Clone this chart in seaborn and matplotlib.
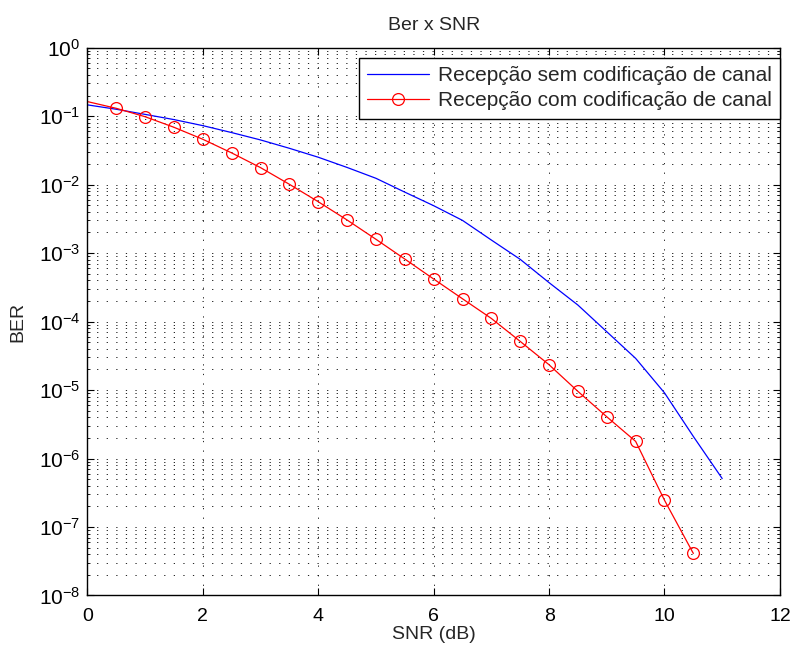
import numpy as np
import pandas as pd
import matplotlib
matplotlib.use("Agg")
import matplotlib.pyplot as plt
import seaborn as sns

# BER sem codificacao (curva azul), passo de 0.5 dB
snr_sem = [0, 0.5, 1, 1.5, 2, 2.5, 3, 3.5, 4, 4.5, 5, 5.5,
           6, 6.5, 7, 7.5, 8, 8.5, 9, 9.5, 10, 10.5, 11]
ber_sem = [0.146, 0.126, 0.106, 0.089, 0.0726, 0.0575, 0.0449, 0.0339,
           0.0251, 0.0178, 0.01236, 0.00776, 0.00492, 0.0030, 0.00155,
           0.00081, 0.00037, 0.000174, 7.1e-5, 2.9e-5, 9.1e-6,
           2.1e-6, 5.1e-7]

# BER com codificacao (curva vermelha com circulos)
snr_com = [0, 0.5, 1, 1.5, 2, 2.5, 3, 3.5, 4, 4.5, 5, 5.5,
           6, 6.5, 7, 7.5, 8, 8.5, 9, 9.5, 10, 10.5]
ber_com = [0.163, 0.130, 0.098, 0.0687, 0.0459, 0.029, 0.0177, 0.0101,
           0.00562, 0.00304, 0.00159, 0.000818, 0.000418, 0.000215,
           0.000111, 5.13e-5, 2.34e-5, 9.55e-6, 4.07e-6, 1.78e-6,
           2.46e-7, 4.11e-8]

sns.set_style("ticks")
plt.rcParams['font.family'] = ['Liberation Sans', 'DejaVu Sans']
plt.rcParams['mathtext.fontset'] = 'custom'
plt.rcParams['mathtext.rm'] = 'Liberation Sans'
plt.rcParams['mathtext.it'] = 'Liberation Sans'
plt.rcParams['mathtext.default'] = 'regular'

df_sem = pd.DataFrame({"SNR": snr_sem, "BER": ber_sem})
df_com = pd.DataFrame({"SNR": snr_com, "BER": ber_com})

fig = plt.figure(figsize=(7.95, 6.51), dpi=100)
ax = fig.add_axes([0.110, 0.0853, 0.871, 0.8415])

sns.lineplot(data=df_sem, x="SNR", y="BER", ax=ax, color="#0000ff", lw=0.9,
             label="Recepção sem codificação de canal")
sns.lineplot(data=df_com, x="SNR", y="BER", ax=ax, color="#ff0000", lw=0.9,
             marker="o", markersize=8.5, markerfacecolor="none",
             markeredgecolor="#ff0000", markeredgewidth=0.9,
             markevery=list(range(1, len(snr_com))),
             label="Recepção com codificação de canal")

ax.set_yscale("log")
ax.set_xlim(0, 12)
ax.set_ylim(1e-8, 1)
ax.set_xticks(np.arange(0, 13, 2))
ax.set_yticks([10.0 ** k for k in range(-8, 1)])
ax.set_yticklabels([r"$10^{%d}$" % k for k in range(-8, 1)])

dots = (0, (1.5, 10))
ax.grid(True, which="major", axis="both", color="black", lw=0.6, linestyle=dots)
ax.grid(True, which="minor", axis="y", color="black", lw=0.6, linestyle=dots)

ax.tick_params(which="both", direction="in", top=True, right=True,
               colors="black")
ax.tick_params(axis="x", labelsize=14, pad=9)
ax.tick_params(axis="y", labelsize=15, pad=5)
ax.tick_params(which="major", length=5)
ax.tick_params(which="minor", length=2.5)
for s in ax.spines.values():
    s.set_linewidth(1.0)
    s.set_color("black")

ax.set_title("Ber x SNR", fontsize=14, pad=13)
ax.set_xlabel("SNR (dB)", fontsize=14, labelpad=1)
ax.set_ylabel("BER", fontsize=14, labelpad=9)

leg = ax.legend(loc="upper right", bbox_to_anchor=(1.0, 1 - 10 / 548),
                borderaxespad=0, fontsize=15, handlelength=3.0,
                handletextpad=0.4, fancybox=False, framealpha=1,
                edgecolor="black", borderpad=0.4, labelspacing=0.3)
leg.get_frame().set_linewidth(1.0)

fig.savefig("out.png", dpi=100)
